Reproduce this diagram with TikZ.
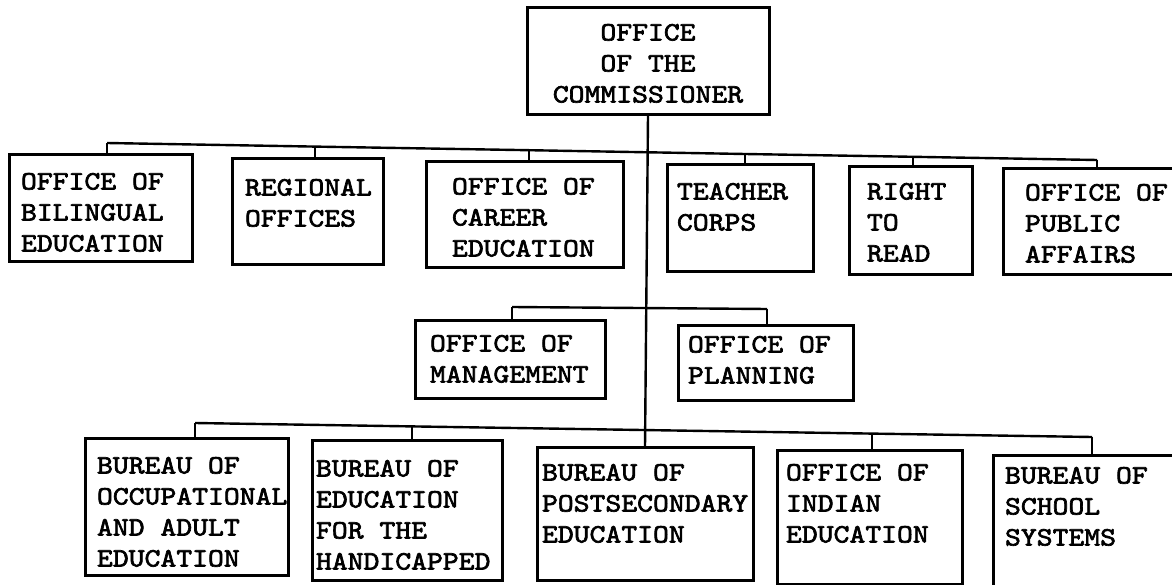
\documentclass[tikz,border=0pt]{standalone}
\usepackage{fontspec}
% typewriter face: Latin Modern Mono, widened and thickened like a typed sheet
\newfontfamily\typewriter{lmmono10-regular.otf}[FakeStretch=1.14,FakeBold=2.5]
\newcommand\orgfont{\typewriter\fontsize{26.5pt}{31pt}\selectfont}

\begin{document}
\begin{tikzpicture}[x=1pt,y=-1pt,
  unit/.style={draw, line width=3pt, anchor=north west, inner sep=0pt, outer sep=0pt},
  caption/.style={anchor=north west, inner sep=0pt, outer sep=0pt, align=left, font=\orgfont},
  wire/.style={line width=2.4pt}]
\useasboundingbox (0,0) rectangle (1172,585);

% ---------- head ----------
\node[unit, minimum width=242pt, minimum height=107pt] (comm) at (527,8) {};
\node[caption, align=center, anchor=north] (comm-t) at (648,24) {OFFICE\\OF THE\\COMMISSIONER};

% ---------- staff offices ----------
\node[unit, minimum width=183pt, minimum height=107pt] (bil) at (9,155) {};
\node[caption] (bil-t) at (21,173) {OFFICE OF\\BILINGUAL\\EDUCATION};

\node[unit, minimum width=151pt, minimum height=106pt] (reg) at (232,159) {};
\node[caption] (reg-t) at (245,179) {REGIONAL\\OFFICES};

\node[unit, minimum width=197pt, minimum height=106pt] (car) at (426,162) {};
\node[caption] (car-t) at (452,178) {OFFICE OF\\CAREER\\EDUCATION};

\node[unit, minimum width=146pt, minimum height=107pt] (tea) at (667,165) {};
\node[caption] (tea-t) at (677,183) {TEACHER\\CORPS};

\node[unit, minimum width=123pt, minimum height=108pt] (rtr) at (849,167) {};
\node[caption] (rtr-t) at (867,183) {RIGHT\\TO\\READ};

\node[unit, minimum width=190pt, minimum height=106pt] (pub) at (1003,169) {};
\node[caption] (pub-t) at (1025,184) {OFFICE OF\\PUBLIC\\AFFAIRS};

% ---------- management and planning ----------
\node[unit, minimum width=190pt, minimum height=78pt] (mgmt) at (415,320) {};
\node[caption] (mgmt-t) at (430,335) {OFFICE OF\\MANAGEMENT};

\node[unit, minimum width=175pt, minimum height=75pt] (plan) at (678,325) {};
\node[caption] (plan-t) at (688,336) {OFFICE OF\\PLANNING};

% ---------- bureaus ----------
\node[unit, minimum width=203pt, minimum height=137pt] (occ) at (85,438) {};
\node[caption] (occ-t) at (97,457) {BUREAU OF\\OCCUPATIONAL\\AND ADULT\\EDUCATION};

\node[unit, minimum width=190pt, minimum height=140pt] (hand) at (312,440) {};
\node[caption] (hand-t) at (316,460) {BUREAU OF\\EDUCATION\\FOR THE\\HANDICAPPED};

\node[unit, minimum width=216pt, minimum height=133pt] (post) at (537,447) {};
\node[caption] (post-t) at (542,464) {BUREAU OF\\POSTSECONDARY\\EDUCATION};

\node[unit, minimum width=185pt, minimum height=134pt] (ind) at (777,450) {};
\node[caption] (ind-t) at (786,464) {OFFICE OF\\INDIAN\\EDUCATION};

\node[unit, minimum width=190pt, minimum height=140pt] (sch) at (993,455) {};
\node[caption] (sch-t) at (1005,467) {BUREAU OF\\SCHOOL\\SYSTEMS};

% ---------- bus junctions ----------
\coordinate (tb-bil) at (107,143);
\coordinate (tb-reg) at (315,146.6);
\coordinate (tb-car) at (529,150.2);
\coordinate (tb-tea) at (745,154);
\coordinate (tb-rtr) at (913,156.8);
\coordinate (tb-pub) at (1097,160);

\coordinate (mb-mgmt) at (512,307);
\coordinate (mb-plan) at (767,309);

\coordinate (bb-occ) at (195,423);
\coordinate (bb-hand) at (412,426.4);
\coordinate (bb-ind) at (872,433.6);
\coordinate (bb-sch) at (1092,437);

% ---------- trunk ----------
\draw[wire] (comm.south) -- (post.north);

% ---------- buses ----------
\draw[wire] (tb-bil) -- (tb-reg) -- (tb-car) -- (tb-tea) -- (tb-rtr) -- (tb-pub);
\draw[wire] (mb-mgmt) -- (mb-plan);
\draw[wire] (bb-occ) -- (bb-hand) -- (bb-ind) -- (bb-sch);

% ---------- drops ----------
\foreach \j/\b in {tb-bil/bil, tb-reg/reg, tb-car/car, tb-tea/tea, tb-rtr/rtr, tb-pub/pub,
                   mb-mgmt/mgmt, mb-plan/plan,
                   bb-occ/occ, bb-hand/hand, bb-ind/ind, bb-sch/sch}
  \draw[wire] (\j) -- (\j |- \b.north);
\end{tikzpicture}
\end{document}
